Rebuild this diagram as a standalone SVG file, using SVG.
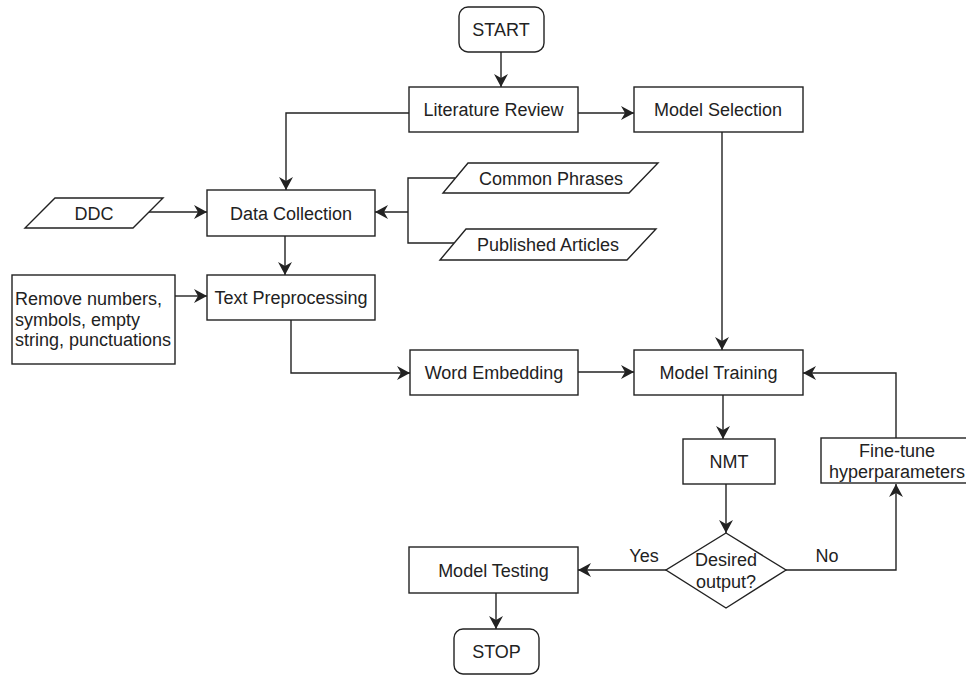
<svg xmlns="http://www.w3.org/2000/svg" width="966" height="677" viewBox="0 0 966 677">
<style>
.box{fill:#fff;stroke:#222;stroke-width:1.4}
.ln{fill:none;stroke:#222;stroke-width:1.4}
.arr{marker-end:url(#ah)}
text{font-family:"Liberation Sans",Arial,Helvetica,sans-serif;font-size:18px;fill:#222}
.c{text-anchor:middle}
</style>
<defs>
<marker id="ah" viewBox="-14 -8 15 16" refX="0" refY="0" markerWidth="15" markerHeight="16" markerUnits="userSpaceOnUse" orient="auto">
<path d="M0,0 L-13,-7 L-9,0 L-13,7 Z" fill="#222"/>
</marker>
</defs>
<rect width="966" height="677" fill="#fff"/>

<g id="connectors">
<path class="ln arr" d="M501,52 V87"/>
<path class="ln arr" d="M578,113 H634"/>
<path class="ln arr" d="M409,113 H286 V190"/>
<path class="ln" d="M455,178 H408 V243 H454"/>
<path class="ln arr" d="M408,212 H375"/>
<path class="ln arr" d="M148,212 H207"/>
<path class="ln arr" d="M285,236 V275"/>
<path class="ln arr" d="M175,296 H207"/>
<path class="ln arr" d="M291,320 V373 H410"/>
<path class="ln arr" d="M578,372 H634"/>
<path class="ln arr" d="M722,132 V350"/>
<path class="ln arr" d="M723,395 V439"/>
<path class="ln arr" d="M726,484 V533"/>
<path class="ln arr" d="M666,570 H578"/>
<path class="ln arr" d="M786,570 H896 V484"/>
<path class="ln arr" d="M896,438 V373 H803"/>
<path class="ln arr" d="M496,593 V629"/>
</g>

<g id="start"><rect class="box" x="459" y="7" width="85" height="45" rx="9"/><text class="c" x="501" y="36">START</text></g>
<g id="literature-review"><rect class="box" x="409" y="87" width="169" height="45"/><text class="c" x="493.5" y="116">Literature Review</text></g>
<g id="model-selection"><rect class="box" x="634" y="87" width="169" height="45"/><text class="c" x="718" y="116">Model Selection</text></g>
<g id="common-phrases"><polygon class="box" points="468,163 658,163 629,193 443,193"/><text class="c" x="551" y="184.5">Common Phrases</text></g>
<g id="published-articles"><polygon class="box" points="466,229 656,229 627,260 440,260"/><text class="c" x="548" y="251">Published Articles</text></g>
<g id="ddc"><polygon class="box" points="55,198 163,198 133,228 25,228"/><text class="c" x="94" y="219.5">DDC</text></g>
<g id="data-collection"><rect class="box" x="207" y="190" width="168" height="46"/><text class="c" x="291" y="219.5">Data Collection</text></g>
<g id="text-preprocessing"><rect class="box" x="207" y="275" width="168" height="45"/><text class="c" x="291" y="304">Text Preprocessing</text></g>
<g id="remove-box"><rect class="box" x="12" y="275" width="163" height="89"/>
<text x="15" y="305">Remove numbers,</text><text x="15" y="325.5">symbols, empty</text><text x="15" y="346">string, punctuations</text></g>
<g id="word-embedding"><rect class="box" x="410" y="350" width="168" height="45"/><text class="c" x="494" y="379">Word Embedding</text></g>
<g id="model-training"><rect class="box" x="634" y="350" width="169" height="45"/><text class="c" x="718.5" y="379">Model Training</text></g>
<g id="nmt"><rect class="box" x="683" y="439" width="92" height="45"/><text class="c" x="729" y="468">NMT</text></g>
<g id="fine-tune"><rect class="box" x="821" y="438" width="152" height="45"/><text class="c" x="897" y="457">Fine-tune</text><text class="c" x="897" y="478">hyperparameters</text></g>
<g id="decision"><polygon class="box" points="726,533 786,570 726,608 666,570"/><text class="c" x="726" y="566">Desired</text><text class="c" x="726" y="588">output?</text></g>
<g id="model-testing"><rect class="box" x="409" y="547" width="169" height="46"/><text class="c" x="493.5" y="576.5">Model Testing</text></g>
<g id="stop"><rect class="box" x="454" y="629" width="85" height="45" rx="9"/><text class="c" x="496.5" y="658">STOP</text></g>
<g id="labels"><text class="c" x="644" y="562">Yes</text><text class="c" x="827" y="562">No</text></g>
</svg>
